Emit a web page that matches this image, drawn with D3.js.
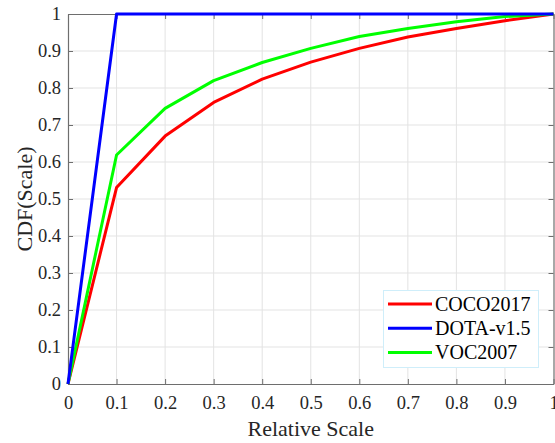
<!DOCTYPE html>
<html><head><meta charset="utf-8">
<script src="https://cdn.jsdelivr.net/npm/d3@7"></script>
<style>body{margin:0;background:#fff}svg{display:block}
svg text{font-family:"Liberation Serif","Times New Roman",Times,serif !important;}</style>
</head><body>
<svg id="c" width="555" height="443"></svg>
<script>
const xValues = [0, 0.1, 0.2, 0.3, 0.4, 0.5, 0.6, 0.7, 0.8, 0.9, 1.0];
const coco2017 = [0, 0.531, 0.670, 0.761, 0.824, 0.870, 0.907, 0.938, 0.961, 0.982, 1.0];
const dotaV15 = [0, 1.0, 1.0, 1.0, 1.0, 1.0, 1.0, 1.0, 1.0, 1.0, 1.0];
const voc2007 = [0, 0.619, 0.745, 0.820, 0.869, 0.907, 0.939, 0.961, 0.979, 0.993, 1.0];
const seriesNames = ["COCO2017", "DOTA-v1.5", "VOC2007"];
const seriesColors = ["#ff0000", "#0000ff", "#00ff00"];
const xTicks = [0, 0.1, 0.2, 0.3, 0.4, 0.5, 0.6, 0.7, 0.8, 0.9, 1];
const yTicks = [0, 0.1, 0.2, 0.3, 0.4, 0.5, 0.6, 0.7, 0.8, 0.9, 1];

const svg = d3.select("#c");
const L = 68, R = 553.5, T = 14, B = 384;
const x = d3.scaleLinear().domain([0, 1]).range([L, R]);
const y = d3.scaleLinear().domain([0, 1]).range([B, T]);
const fmt = d => d === 0 ? "0" : d === 1 ? "1" : d3.format(".1f")(d);

// grid
const g = svg.append("g");
g.selectAll(".gx").data(xTicks.slice(1, -1)).join("line")
  .attr("x1", d => x(d)).attr("x2", d => x(d)).attr("y1", T).attr("y2", B)
  .attr("stroke", "#e3e3e3").attr("stroke-width", 1);
g.selectAll(".gy").data(yTicks.slice(1, -1)).join("line")
  .attr("y1", d => y(d)).attr("y2", d => y(d)).attr("x1", L).attr("x2", R)
  .attr("stroke", "#e3e3e3").attr("stroke-width", 1);

// axes
const axCol = "#6e6e6e";
function styleAxis(sel, showText) {
  sel.attr("font-family", null);
  sel.select(".domain").attr("stroke", axCol).attr("stroke-width", 1.2);
  sel.selectAll(".tick line").attr("stroke", axCol);
  sel.selectAll(".tick text").attr("font-size", 18.5).attr("fill", "#262626");
  if (!showText) sel.selectAll(".tick text").remove();
}
const ax = svg.append("g").attr("transform", `translate(0,${B})`)
  .call(d3.axisBottom(x).tickValues(xTicks).tickFormat(fmt).tickSizeInner(-5).tickSizeOuter(0));
styleAxis(ax, true);
ax.selectAll(".tick text").attr("dy", "0.71em").attr("y", 12);
const axT = svg.append("g").attr("transform", `translate(0,${T})`)
  .call(d3.axisTop(x).tickValues(xTicks).tickSizeInner(-5).tickSizeOuter(0));
styleAxis(axT, false);
const ay = svg.append("g").attr("transform", `translate(${L},0)`)
  .call(d3.axisLeft(y).tickValues(yTicks).tickFormat(fmt).tickSizeInner(-5).tickSizeOuter(0));
styleAxis(ay, true);
ay.selectAll(".tick text").attr("x", -7);
const ayR = svg.append("g").attr("transform", `translate(${R},0)`)
  .call(d3.axisRight(y).tickValues(yTicks).tickSizeInner(-5).tickSizeOuter(0));
styleAxis(ayR, false);

// lines
const line = d3.line().x((d, i) => x(xValues[i])).y(d => y(d));
[coco2017, voc2007, dotaV15].forEach((vals) => {
  const k = vals === coco2017 ? 0 : vals === dotaV15 ? 1 : 2;
  svg.append("path").datum(vals).attr("d", line)
    .attr("fill", "none").attr("stroke", seriesColors[k]).attr("stroke-width", 3)
    .attr("stroke-linejoin", "round");
});

// labels
svg.append("text").attr("x", (L + R) / 2).attr("y", 436)
  .attr("text-anchor", "middle").attr("font-size", 22)
  .attr("fill", "#262626").text("Relative Scale");
svg.append("text").attr("transform", `translate(32,${(T + B) / 2}) rotate(-90)`)
  .attr("text-anchor", "middle").attr("font-size", 22)
  .attr("fill", "#262626").text("CDF(Scale)");

// legend
const lg = svg.append("g");
lg.append("rect").attr("x", 383.5).attr("y", 290.5).attr("width", 155).attr("height", 77)
  .attr("fill", "#fff").attr("stroke", "#cfeefa").attr("stroke-width", 1);
seriesNames.forEach((n, i) => {
  const cy = 304 + i * 24.2;
  lg.append("line").attr("x1", 388).attr("x2", 432).attr("y1", cy).attr("y2", cy)
    .attr("stroke", seriesColors[i]).attr("stroke-width", 3);
  lg.append("text").attr("x", 435).attr("y", cy + 6.5)
    .attr("font-size", 20).attr("fill", "#000").text(n);
});
</script>
</body></html>
